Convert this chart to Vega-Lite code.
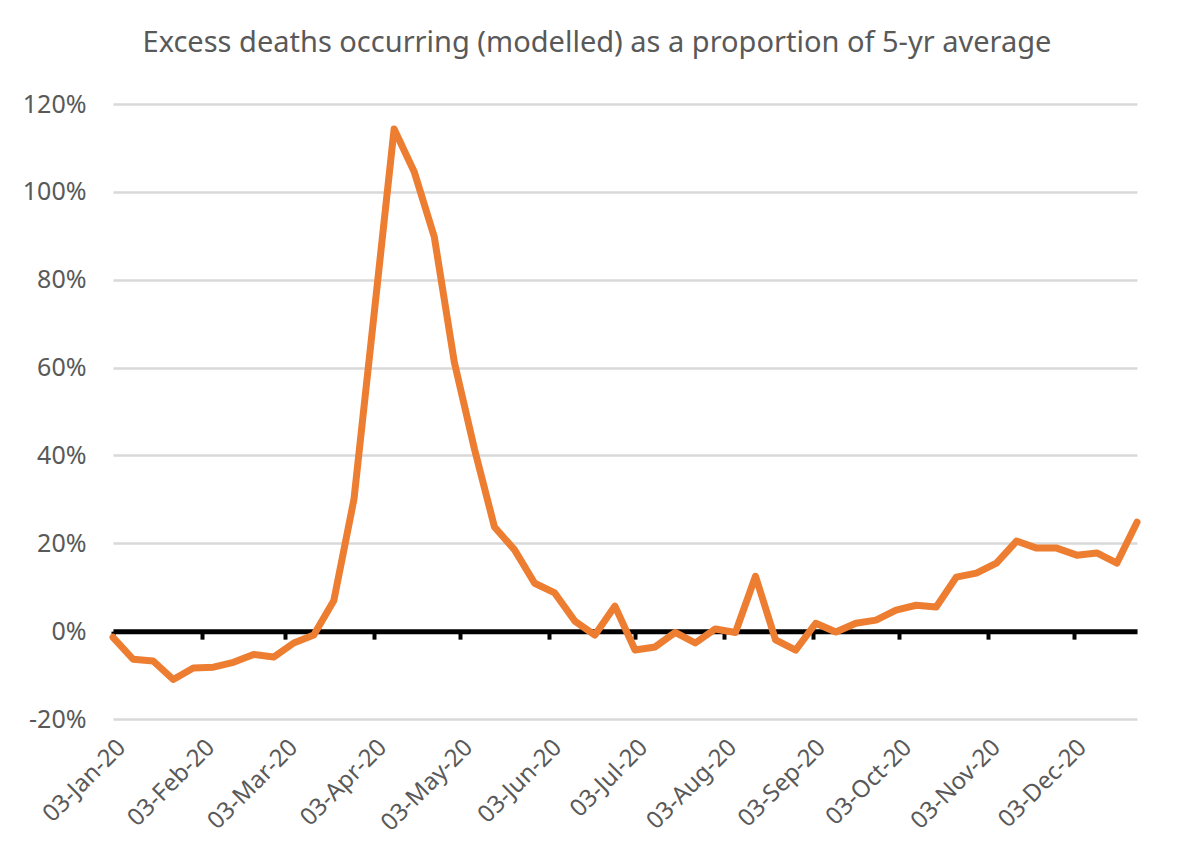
{
  "$schema": "https://vega.github.io/schema/vega-lite/v6.json",
  "width": 1024,
  "height": 615,
  "autosize": {"type": "none"},
  "padding": {"left": 113, "top": 104, "right": 48, "bottom": 138},
  "background": "white",
  "title": {
    "text": "Excess deaths occurring (modelled) as a proportion of 5-yr average",
    "font": "Noto Sans",
    "fontSize": 29,
    "fontWeight": "normal",
    "color": "#595959",
    "anchor": "middle",
    "frame": "group",
    "dx": -28,
    "offset": 34
  },
  "config": {"view": {"stroke": null}},
  "data": {
    "values": [
      {"date": "2020-01-03", "value": -0.014},
      {"date": "2020-01-10", "value": -0.064},
      {"date": "2020-01-17", "value": -0.068},
      {"date": "2020-01-24", "value": -0.110},
      {"date": "2020-01-31", "value": -0.084},
      {"date": "2020-02-07", "value": -0.082},
      {"date": "2020-02-14", "value": -0.071},
      {"date": "2020-02-21", "value": -0.053},
      {"date": "2020-02-28", "value": -0.059},
      {"date": "2020-03-06", "value": -0.027},
      {"date": "2020-03-13", "value": -0.009},
      {"date": "2020-03-20", "value": 0.070},
      {"date": "2020-03-27", "value": 0.300},
      {"date": "2020-04-03", "value": 0.720},
      {"date": "2020-04-10", "value": 1.143},
      {"date": "2020-04-17", "value": 1.046},
      {"date": "2020-04-24", "value": 0.898},
      {"date": "2020-05-01", "value": 0.612},
      {"date": "2020-05-08", "value": 0.415},
      {"date": "2020-05-15", "value": 0.237},
      {"date": "2020-05-22", "value": 0.185},
      {"date": "2020-05-29", "value": 0.109},
      {"date": "2020-06-05", "value": 0.087},
      {"date": "2020-06-12", "value": 0.023},
      {"date": "2020-06-19", "value": -0.009},
      {"date": "2020-06-26", "value": 0.057},
      {"date": "2020-07-03", "value": -0.043},
      {"date": "2020-07-10", "value": -0.036},
      {"date": "2020-07-17", "value": -0.003},
      {"date": "2020-07-24", "value": -0.027},
      {"date": "2020-07-31", "value": 0.005},
      {"date": "2020-08-07", "value": -0.003},
      {"date": "2020-08-14", "value": 0.125},
      {"date": "2020-08-21", "value": -0.020},
      {"date": "2020-08-28", "value": -0.043},
      {"date": "2020-09-04", "value": 0.018},
      {"date": "2020-09-11", "value": -0.002},
      {"date": "2020-09-18", "value": 0.018},
      {"date": "2020-09-25", "value": 0.025},
      {"date": "2020-10-02", "value": 0.048},
      {"date": "2020-10-09", "value": 0.059},
      {"date": "2020-10-16", "value": 0.055},
      {"date": "2020-10-23", "value": 0.123},
      {"date": "2020-10-30", "value": 0.132},
      {"date": "2020-11-06", "value": 0.155},
      {"date": "2020-11-13", "value": 0.205},
      {"date": "2020-11-20", "value": 0.189},
      {"date": "2020-11-27", "value": 0.189},
      {"date": "2020-12-04", "value": 0.173},
      {"date": "2020-12-11", "value": 0.178},
      {"date": "2020-12-18", "value": 0.155},
      {"date": "2020-12-25", "value": 0.248}
    ]
  },
  "resolve": {"axis": {"x": "independent", "y": "independent"}},
  "layer": [
    {
      "mark": {"type": "point", "opacity": 0},
      "encoding": {
        "x": {
          "field": "date",
          "type": "temporal",
          "scale": {
            "type": "utc",
            "domain": [
              {"year": 2020, "month": 1, "date": 3, "utc": true},
              {"year": 2020, "month": 12, "date": 25, "utc": true}
            ]
          },
          "axis": {
            "orient": "bottom",
            "offset": -87.86,
            "title": null,
            "labels": false,
            "grid": false,
            "domain": true,
            "domainColor": "#000000",
            "domainWidth": 5,
            "ticks": true,
            "tickColor": "#000000",
            "tickWidth": 4,
            "tickSize": 8,
            "values": [
              {"year": 2020, "month": 1, "date": 3, "utc": true},
              {"year": 2020, "month": 2, "date": 3, "utc": true},
              {"year": 2020, "month": 3, "date": 3, "utc": true},
              {"year": 2020, "month": 4, "date": 3, "utc": true},
              {"year": 2020, "month": 5, "date": 3, "utc": true},
              {"year": 2020, "month": 6, "date": 3, "utc": true},
              {"year": 2020, "month": 7, "date": 3, "utc": true},
              {"year": 2020, "month": 8, "date": 3, "utc": true},
              {"year": 2020, "month": 9, "date": 3, "utc": true},
              {"year": 2020, "month": 10, "date": 3, "utc": true},
              {"year": 2020, "month": 11, "date": 3, "utc": true},
              {"year": 2020, "month": 12, "date": 3, "utc": true}
            ]
          }
        },
        "y": {
          "field": "value",
          "type": "quantitative",
          "scale": {"domain": [-0.2, 1.2], "nice": false, "zero": false},
          "axis": null
        }
      }
    },
    {
      "mark": {"type": "line", "color": "#ED7D31", "strokeWidth": 7, "strokeJoin": "round", "strokeCap": "round"},
      "encoding": {
        "x": {
          "field": "date",
          "type": "temporal",
          "scale": {
            "type": "utc",
            "domain": [
              {"year": 2020, "month": 1, "date": 3, "utc": true},
              {"year": 2020, "month": 12, "date": 25, "utc": true}
            ]
          },
          "axis": {
            "orient": "bottom",
            "title": null,
            "grid": false,
            "domain": false,
            "ticks": false,
            "labelAngle": -45,
            "labelFont": "Noto Sans",
            "labelFontSize": 24,
            "labelColor": "#595959",
            "labelPadding": 16,
            "labelOverlap": false,
            "labelFlush": false,
            "labelBound": false,
            "format": "%d-%b-%y",
            "values": [
              {"year": 2020, "month": 1, "date": 3, "utc": true},
              {"year": 2020, "month": 2, "date": 3, "utc": true},
              {"year": 2020, "month": 3, "date": 3, "utc": true},
              {"year": 2020, "month": 4, "date": 3, "utc": true},
              {"year": 2020, "month": 5, "date": 3, "utc": true},
              {"year": 2020, "month": 6, "date": 3, "utc": true},
              {"year": 2020, "month": 7, "date": 3, "utc": true},
              {"year": 2020, "month": 8, "date": 3, "utc": true},
              {"year": 2020, "month": 9, "date": 3, "utc": true},
              {"year": 2020, "month": 10, "date": 3, "utc": true},
              {"year": 2020, "month": 11, "date": 3, "utc": true},
              {"year": 2020, "month": 12, "date": 3, "utc": true}
            ]
          }
        },
        "y": {
          "field": "value",
          "type": "quantitative",
          "scale": {"domain": [-0.2, 1.2], "nice": false, "zero": false},
          "axis": {
            "title": null,
            "values": [-0.2, 0, 0.2, 0.4, 0.6, 0.8, 1.0, 1.2],
            "labelExpr": "replace(format(datum.value, '.0%'), '\u2212', '-')",
            "grid": true,
            "gridColor": "#d9d9d9",
            "gridWidth": 2.5,
            "domain": false,
            "ticks": false,
            "labelFont": "Noto Sans",
            "labelFontSize": 25,
            "labelColor": "#595959",
            "labelPadding": 27
          }
        }
      }
    }
  ]
}
